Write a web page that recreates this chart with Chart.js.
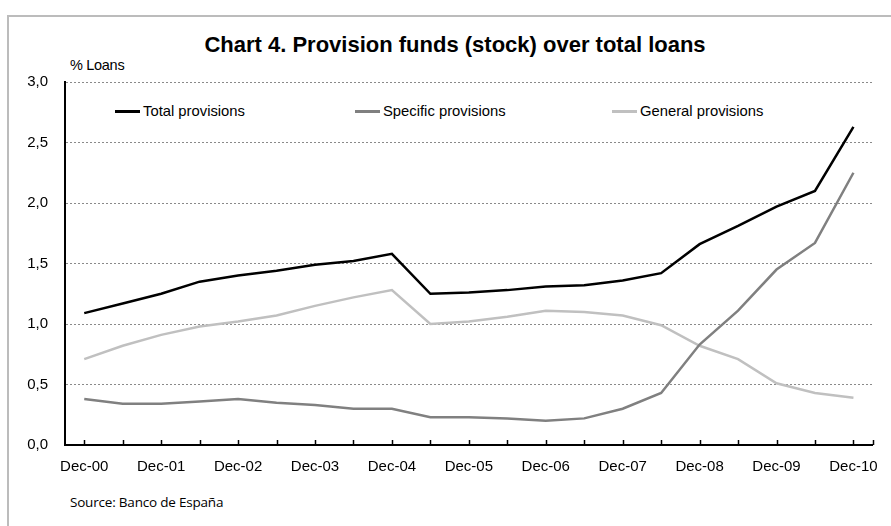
<!DOCTYPE html>
<html>
<head>
<meta charset="utf-8">
<script src="https://cdn.jsdelivr.net/npm/chart.js@4/dist/chart.umd.min.js"></script>
<style>
  html,body{margin:0;padding:0;background:#fff;}
  #wrap{position:relative;width:891px;height:526px;overflow:hidden;font-family:"Liberation Sans",Arial,sans-serif;}
  #frame{position:absolute;left:7px;top:15px;right:-10px;bottom:-10px;border-top:2px solid #bcbcbc;border-left:2px solid #bcbcbc;}
  #title{position:absolute;left:0;width:910px;top:32px;text-align:center;font-weight:bold;font-size:22px;color:#000;}
  #unit{position:absolute;left:70px;top:57px;font-size:14.5px;color:#000;letter-spacing:-0.3px;}
  #source{position:absolute;left:70px;top:493px;font-family:"Open Sans",sans-serif;font-size:13.5px;color:#000;letter-spacing:-0.2px;}
  .lg{position:absolute;top:103px;font-size:14.8px;color:#000;white-space:nowrap;}
  .lg i{display:inline-block;width:25px;height:3px;vertical-align:middle;margin-right:3px;position:relative;top:-1px;}
  canvas{position:absolute;left:0;top:0;}
</style>
</head>
<body>
<div id="wrap">
  <div id="frame"></div>
  <div id="title">Chart 4. Provision funds (stock) over total loans</div>
  <div id="unit">% Loans</div>
  <div id="legend"></div>
  <div id="source">Source: Banco de España</div>
  <canvas id="c" width="891" height="526"></canvas>
</div>
<script>
// semi-annual observations, Dec-00 .. Dec-10
const periods = ['Dec-00','Jun-01','Dec-01','Jun-02','Dec-02','Jun-03','Dec-03','Jun-04','Dec-04','Jun-05','Dec-05',
                 'Jun-06','Dec-06','Jun-07','Dec-07','Jun-08','Dec-08','Jun-09','Dec-09','Jun-10','Dec-10'];
const totalProv    = [1.09,1.17,1.25,1.35,1.40,1.44,1.49,1.52,1.58,1.25,1.26,1.28,1.31,1.32,1.36,1.42,1.66,1.81,1.97,2.10,2.63];
const specificProv = [0.38,0.34,0.34,0.36,0.38,0.35,0.33,0.30,0.30,0.23,0.23,0.22,0.20,0.22,0.30,0.43,0.83,1.11,1.45,1.67,2.25];
const generalProv  = [0.71,0.82,0.91,0.98,1.02,1.07,1.15,1.22,1.28,1.00,1.02,1.06,1.11,1.10,1.07,0.99,0.82,0.71,0.51,0.43,0.39];
const yTicks = [0,0.5,1,1.5,2,2.5,3];

const series = [
  {label:'Total provisions',    data:totalProv,    color:'#000000', x:115},
  {label:'Specific provisions', data:specificProv, color:'#808080', x:355},
  {label:'General provisions',  data:generalProv,  color:'#c0c0c0', x:612},
];

// legend sits inside the plot area
document.getElementById('legend').innerHTML = series.map(s=>
  `<div class="lg" style="left:${s.x}px"><i style="background:${s.color}"></i>${s.label}</div>`).join('');

// small tick marks pointing up from the category axis, one per period
const innerTicks = {
  id:'innerTicks',
  afterDraw(chart){
    const x = chart.scales.x, a = chart.chartArea, ctx = chart.ctx;
    ctx.save();
    ctx.strokeStyle = '#000'; ctx.lineWidth = 1.5;
    const xs = periods.map((p,i)=>x.getPixelForValue(i)).concat([a.right]);
    xs.forEach(px=>{
      ctx.beginPath(); ctx.moveTo(Math.round(px)+0.5, a.bottom); ctx.lineTo(Math.round(px)+0.5, a.bottom-5); ctx.stroke();
    });
    ctx.restore();
  }
};

new Chart(document.getElementById('c'),{
  type:'line',
  data:{labels:periods,
    datasets:series.map(s=>({label:s.label,data:s.data,borderColor:s.color,backgroundColor:s.color,
      borderWidth:2.5,pointRadius:0,tension:0,fill:false}))},
  options:{
    responsive:false,animation:false,
    layout:{padding:{left:0,top:82,right:16,bottom:51}},
    plugins:{legend:{display:false},title:{display:false},tooltip:{enabled:false}},
    scales:{
      x:{
        offset:true,
        grid:{display:false,drawTicks:false},
        border:{display:true,color:'#000',width:2},
        ticks:{autoSkip:false,maxRotation:0,padding:13,color:'#000',
          font:{family:'"Liberation Sans", Arial, sans-serif',size:15},
          callback:(v,i)=> i%2===0 ? periods[i] : ''},
        afterFit:s=>{s.height=30;}
      },
      y:{
        min:0,max:3,
        afterBuildTicks:s=>{s.ticks=yTicks.map(v=>({value:v}));},
        grid:{color:'#8a8a8a',lineWidth:1,drawTicks:false},
        border:{display:true,color:'#000',width:2,dash:[2,2]},
        ticks:{padding:17,color:'#000',
          font:{family:'"Liberation Sans", Arial, sans-serif',size:15},
          callback:v=>v.toFixed(1).replace('.',',')},
        afterFit:s=>{s.width=65;}
      }
    }
  },
  plugins:[innerTicks]
});
</script>
</body>
</html>
